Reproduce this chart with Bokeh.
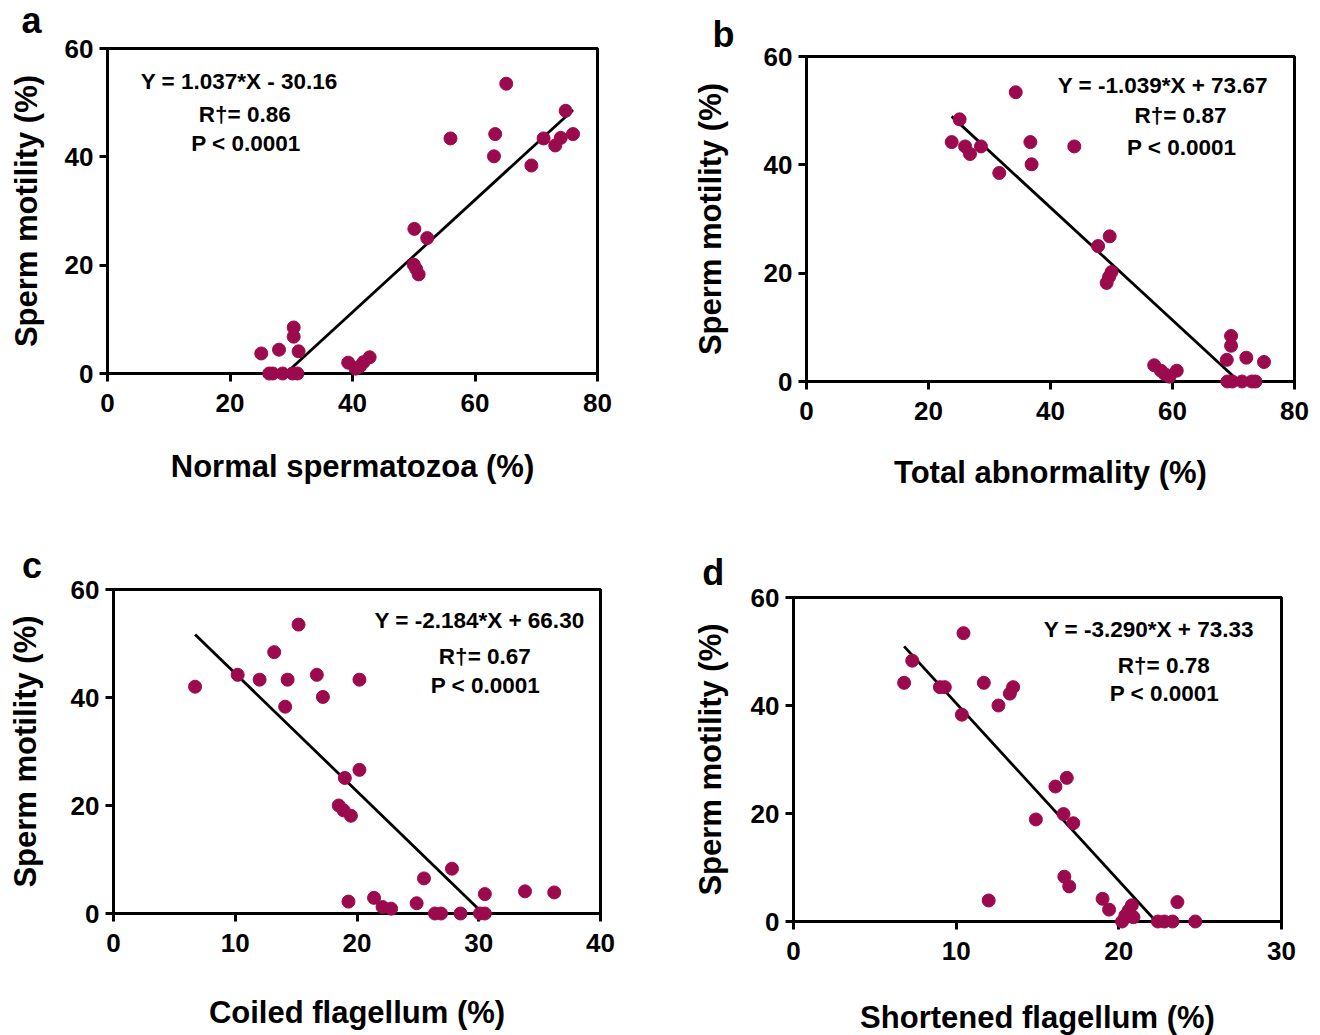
import numpy as np
from bokeh.plotting import figure
from bokeh.models import Range1d, Label, FixedTicker
from bokeh.layouts import row, column
from bokeh.core.properties import value
from bokeh.embed import file_html
from bokeh.resources import INLINE

# ---------------- data ----------------
normal_x = [65.1, 74.8, 56.0, 63.3, 63.1, 71.2, 74.0, 73.1, 76.0, 69.2,
            50.1, 52.2, 50.0, 50.4, 50.8, 30.4, 30.4, 25.1, 28.0, 31.2,
            26.4, 27.0, 28.6, 30.2, 31.0, 39.3, 40.5, 41.2, 41.8, 42.8]
motility_a = [53.5, 48.5, 43.4, 44.2, 40.1, 43.4, 43.5, 42.1, 44.2, 38.4,
              26.7, 25.0, 20.1, 19.3, 18.3, 8.5, 6.8, 3.7, 4.4, 4.1,
              0, 0, 0, 0, 0, 2.0, 0.9, 1.3, 2.1, 3.0]

abnormal_x = [34.3, 25.1, 23.8, 26.0, 26.8, 28.6, 31.6, 36.7, 36.9, 43.9,
              49.7, 47.8, 50.0, 49.6, 49.2, 69.6, 69.6, 68.9, 72.1, 75.0,
              69.0, 69.8, 71.4, 73.0, 73.6, 60.7, 59.5, 58.8, 58.1, 57.0]
motility_b = [53.4, 48.4, 44.2, 43.4, 42.0, 43.4, 38.5, 44.2, 40.1, 43.4,
              26.8, 25.0, 20.2, 19.3, 18.2, 8.4, 6.6, 4.0, 4.4, 3.6,
              0, 0, 0, 0, 0, 2.0, 0.9, 1.3, 2.0, 3.0]

coiled_x = [6.7, 10.2, 12.0, 13.2, 15.2, 14.3, 14.1, 16.7, 17.2, 20.2,
            20.2, 19.0, 18.5, 18.9, 19.5, 19.3, 21.4, 22.1, 22.8, 24.9,
            25.5, 27.8, 30.5, 33.8, 36.2, 26.4, 26.9, 28.5, 30.1, 30.5]
motility_c = [42.0, 44.2, 43.3, 48.4, 53.5, 43.3, 38.3, 44.2, 40.1, 43.3,
              26.6, 25.1, 20.0, 19.1, 18.1, 2.2, 2.9, 1.2, 0.9, 1.9,
              6.5, 8.3, 3.6, 4.1, 3.9, 0, 0, 0, 0, 0]

shortened_x = [10.45, 7.3, 6.8, 9.0, 9.3, 11.7, 13.5, 13.3, 12.6, 10.35,
               16.8, 16.1, 16.6, 17.2, 14.9, 16.65, 16.95, 12.0, 19.0, 19.4,
               23.6, 20.2, 20.4, 20.6, 20.8, 20.9, 22.4, 22.8, 23.3, 24.7]
motility_d = [53.4, 48.3, 44.2, 43.4, 43.4, 44.2, 43.4, 42.2, 40.0, 38.3,
              26.6, 25.0, 19.9, 18.2, 18.9, 8.3, 6.5, 3.9, 4.2, 2.2,
              3.6, 0.0, 1.1, 2.0, 3.0, 0.8, 0, 0, 0, 0]

slopes = [1.037, -1.039, -2.184, -3.290]
intercepts = [-30.16, 73.67, 66.30, 73.33]
r2_values = ["0.86", "0.87", "0.67", "0.78"]
equations = ["Y = 1.037*X - 30.16", "Y = -1.039*X + 73.67",
             "Y = -2.184*X + 66.30", "Y = -3.290*X + 73.33"]
x_titles = ["Normal spermatozoa (%)", "Total abnormality (%)",
            "Coiled flagellum (%)", "Shortened flagellum (%)"]
y_title = "Sperm motility (%)"
panel_letters = ["a", "b", "c", "d"]
x_maxes = [80, 80, 40, 30]
x_ticks = [[0, 20, 40, 60, 80], [0, 20, 40, 60, 80], [0, 10, 20, 30, 40], [0, 10, 20, 30]]
y_ticks = [0, 20, 40, 60]

FONT = "Liberation Sans"
DOT = "#9c0a4e"


def make_panel(xs, ys, idx, frame, borders, ylab_standoff, xlab_standoff,
               text_pos, letter_pos):
    left, right, top, bottom = borders
    p = figure(frame_width=frame[0], frame_height=frame[1],
               output_backend="svg", toolbar_location=None,
               x_range=Range1d(0, x_maxes[idx]), y_range=Range1d(0, 60),
               min_border_left=left, min_border_right=right,
               min_border_top=top, min_border_bottom=bottom)
    p.background_fill_color = "white"
    p.border_fill_color = "white"
    p.outline_line_color = "black"
    p.outline_line_width = 3
    p.xgrid.visible = False
    p.ygrid.visible = False
    p.xaxis.ticker = FixedTicker(ticks=x_ticks[idx])
    p.yaxis.ticker = FixedTicker(ticks=y_ticks)
    for ax in (p.xaxis[0], p.yaxis[0]):
        ax.axis_line_width = 3
        ax.major_tick_line_width = 3
        ax.major_tick_out = 8
        ax.major_tick_in = 0
        ax.minor_tick_line_color = None
        ax.major_label_text_font = FONT
        ax.major_label_text_font_style = "bold"
        ax.major_label_text_font_size = "26px"
        ax.major_label_text_color = "black"
        ax.axis_label_text_font = FONT
        ax.axis_label_text_font_style = "bold"
        ax.axis_label_text_font_size = "31px"
        ax.axis_label_text_color = "black"
    p.xaxis.major_label_standoff = 12
    p.yaxis.major_label_standoff = 6
    p.xaxis.axis_label = x_titles[idx]
    p.yaxis.axis_label = y_title
    p.xaxis.axis_label_standoff = xlab_standoff
    p.yaxis.axis_label_standoff = ylab_standoff

    # regression line clipped to y >= 0 over the data's x span
    m, b = slopes[idx], intercepts[idx]
    x0, x1 = min(xs), max(xs)
    xi = -b / m
    if m > 0:
        x0 = max(x0, xi)
    else:
        x1 = min(x1, xi)
    p.line([x0, x1], [m * x0 + b, m * x1 + b], line_color="black", line_width=2.8)

    p.scatter(xs, ys, size=13, fill_color=DOT, line_color=DOT, level="overlay")

    texts = [equations[idx], "R\u2020= " + r2_values[idx], "P < 0.0001"]
    for t, (tx, ty) in zip(texts, text_pos):
        p.add_layout(Label(x=tx, y=ty, text=t, text_align="center", text_baseline="middle",
                           text_font=FONT, text_font_style="bold", text_font_size="22.5px",
                           text_color="black"))
    p.text(x=[letter_pos[0]], y=[letter_pos[1]], text=[panel_letters[idx]],
           text_align="center", text_baseline="middle", text_font=value(FONT),
           text_font_style="bold", text_font_size="36px", text_color="black",
           level="overlay")
    return p


pa = make_panel(normal_x, motility_a, 0, (490, 325), (107, 63, 48, 165), 18, 34,
                [(21.5, 54.0), (22.4, 47.8), (22.6, 42.5)], (-12.4, 65.1))
pb = make_panel(abnormal_x, motility_b, 1, (488, 325), (146, 25, 56, 157), 33, 32,
                [(58.4, 54.6), (61.3, 49.1), (61.5, 43.2)], (-13.6, 64.06))
pc = make_panel(coiled_x, motility_c, 2, (487, 324), (113, 60, 51, 121), 25, 40,
                [(30.06, 54.3), (30.5, 47.6), (30.55, 42.2)], (-6.69, 64.5))
pd = make_panel(shortened_x, motility_d, 3, (488, 324), (133, 38, 59, 113), 20, 37,
                [(21.84, 54.1), (22.76, 47.4), (22.8, 42.3)], (-4.93, 64.7))

layout = column(row(column(pa), column(pb)), row(column(pc), column(pd)))
open("out.html", "w").write(file_html(layout, INLINE))
